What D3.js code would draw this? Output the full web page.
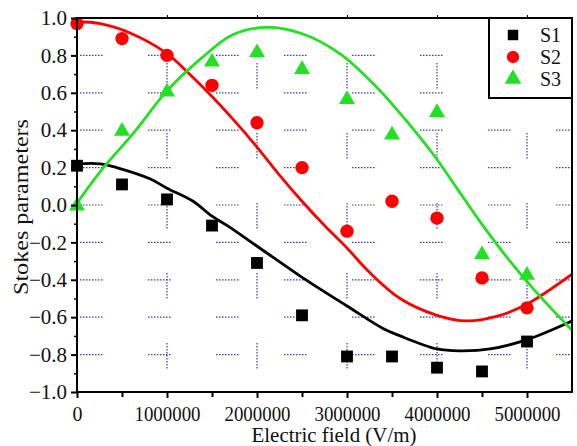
<!DOCTYPE html>
<html>
<head>
<meta charset="utf-8">
<script src="https://cdn.jsdelivr.net/npm/d3@7"></script>
<style>
  html, body { margin: 0; padding: 0; background: #fff; }
</style>
</head>
<body>
<div id="chart"></div>
<script>
// measured points (field in V/m)
const fieldPts = [0, 500000, 1000000, 1500000, 2000000, 2500000, 3000000, 3500000, 4000000, 4500000, 5000000];
const s1Pts = [0.21, 0.11, 0.03, -0.11, -0.31, -0.59, -0.81, -0.81, -0.87, -0.89, -0.73];
const s2Pts = [0.97, 0.89, 0.80, 0.64, 0.44, 0.20, -0.14, 0.02, -0.07, -0.39, -0.55];
const s3Pts = [0.00, 0.40, 0.61, 0.77, 0.82, 0.73, 0.57, 0.38, 0.50, -0.26, -0.37];

// theory curves
const s1CurveX = [0, 260000, 440000, 810000, 1000000, 1290000, 1500000, 1670000, 2030000, 2480000, 3000000, 3400000, 3590000, 4000000, 4260000, 4590000, 5000000, 5500000];
const s1CurveY = [0.22, 0.22, 0.20, 0.14, 0.09, 0.02, -0.06, -0.11, -0.23, -0.38, -0.54, -0.66, -0.70, -0.77, -0.78, -0.77, -0.72, -0.62];
const s2CurveX = [0, 260000, 590000, 1000000, 1250000, 1500000, 1750000, 2000000, 2250000, 2500000, 2750000, 3000000, 3250000, 3590000, 4000000, 4330000, 4700000, 5000000, 5500000];
const s2CurveY = [0.98, 0.97, 0.92, 0.81, 0.70, 0.58, 0.45, 0.31, 0.16, 0.02, -0.11, -0.23, -0.36, -0.50, -0.59, -0.62, -0.59, -0.53, -0.37];
const s3CurveX = [0, 260000, 620000, 1000000, 1370000, 1730000, 2110000, 2480000, 2920000, 3330000, 3590000, 3960000, 4220000, 4480000, 4810000, 5110000, 5500000];
const s3CurveY = [0.01, 0.18, 0.38, 0.61, 0.78, 0.91, 0.95, 0.92, 0.81, 0.63, 0.49, 0.27, 0.09, -0.09, -0.30, -0.47, -0.67];

const xTicks = [0, 1000000, 2000000, 3000000, 4000000, 5000000];
const xMinor = [500000, 1500000, 2500000, 3500000, 4500000];
const yTicks = [-1.0, -0.8, -0.6, -0.4, -0.2, 0.0, 0.2, 0.4, 0.6, 0.8, 1.0];
const yMinor = [-0.9, -0.7, -0.5, -0.3, -0.1, 0.1, 0.3, 0.5, 0.7, 0.9];
const yGrid = [-0.8, -0.6, -0.4, -0.2, 0.0, 0.2, 0.4, 0.6, 0.8];
const xGrid = [1000000, 2000000, 3000000, 4000000, 5000000];

const seriesNames = ['S1', 'S2', 'S3'];
const seriesColors = ['#000000', '#ff0000', '#22e022'];

const W = 577, H = 446;
const margin = {left: 77, top: 18, right: 5, bottom: 54};
const serif = 'Liberation Serif, Tinos, Times New Roman, DejaVu Serif, Noto Serif, serif';

const svg = d3.select('#chart').append('svg').attr('width', W).attr('height', H)
  .style('display', 'block')
  .attr('font-family', serif);

const x = d3.scaleLinear().domain([0, 5500000]).range([margin.left, W - margin.right]);
const y = d3.scaleLinear().domain([-1, 1]).range([H - margin.bottom, margin.top]);

// dotted dash pattern: dots over `dash` px, then a gap until `period`
function dotted(dash, period) {
  const n = Math.floor(dash / 3);
  const arr = [];
  for (let i = 0; i < n; i++) arr.push(1.5, 1.5);
  arr[arr.length - 1] += period - n * 3;
  return arr.join(',');
}

// grid (short dotted blue bits)
const grid = svg.append('g').attr('stroke', '#3a3aa6').attr('stroke-width', 1.2).attr('fill', 'none');
yGrid.forEach(v => {
  grid.append('line')
    .attr('x1', x(0) + 3).attr('x2', x(5500000))
    .attr('y1', y(v)).attr('y2', y(v))
    .attr('stroke-dasharray', dotted(25, 68));
});
xGrid.forEach(v => {
  grid.append('line')
    .attr('x1', x(v)).attr('x2', x(v))
    .attr('y1', y(1) + 45).attr('y2', y(-1))
    .attr('stroke-dasharray', dotted(28, 70));
});

// curves
const curves = [[s1CurveX, s1CurveY], [s2CurveX, s2CurveY], [s3CurveX, s3CurveY]];
const line = d3.line().x(d => x(d[0])).y(d => y(d[1])).curve(d3.curveCatmullRom);
svg.append('clipPath').attr('id', 'plotclip').append('rect')
  .attr('x', x(0)).attr('y', y(1)).attr('width', x(5500000) - x(0)).attr('height', y(-1) - y(1));
curves.forEach((c, i) => {
  const pts = c[0].map((v, j) => [v, c[1][j]]);
  svg.append('path').datum(pts)
    .attr('d', line)
    .attr('fill', 'none')
    .attr('stroke', seriesColors[i])
    .attr('stroke-width', 2.8)
    .attr('stroke-linejoin', 'round')
    .attr('clip-path', 'url(#plotclip)');
});

// markers
const symbols = [d3.symbolSquare, d3.symbolCircle, d3.symbolTriangle];
const sizes = [140, 140, 110];
[s1Pts, s2Pts, s3Pts].forEach((vals, i) => {
  svg.append('g').selectAll('path').data(vals).join('path')
    .attr('transform', (d, j) => `translate(${x(fieldPts[j])},${y(d) + (i === 2 ? 1 : 0)})`)
    .attr('d', d3.symbol().type(symbols[i]).size(sizes[i]))
    .attr('fill', seriesColors[i]);
});

// frame
svg.append('rect')
  .attr('x', x(0)).attr('y', y(1))
  .attr('width', x(5500000) - x(0)).attr('height', y(-1) - y(1))
  .attr('fill', 'none').attr('stroke', '#000').attr('stroke-width', 2);

// axes
const xAxis = d3.axisBottom(x).tickValues(xTicks).tickSize(6).tickPadding(9).tickFormat(d3.format('d'));
const gx = svg.append('g').attr('transform', `translate(0,${y(-1)})`).call(xAxis);
gx.attr('font-family', serif);
gx.select('.domain').remove();
gx.selectAll('line').attr('stroke-width', 2);
gx.selectAll('text')
  .attr('font-family', serif)
  .attr('font-size', 20).attr('fill', '#111')
  .each(function(d) { if (d > 0) d3.select(this).attr('textLength', 66).attr('lengthAdjust', 'spacingAndGlyphs'); });
const gxm = svg.append('g').attr('transform', `translate(0,${y(-1)})`)
  .call(d3.axisBottom(x).tickValues(xMinor).tickSize(5).tickFormat(''));
gxm.select('.domain').remove();
gxm.selectAll('line').attr('stroke-width', 2);
const gxt = svg.append('g').attr('transform', `translate(0,${y(1)})`)
  .call(d3.axisTop(x).tickValues(xTicks.slice(1)).tickSize(3).tickFormat(''));
gxt.select('.domain').remove();

const yAxis = d3.axisLeft(y).tickValues(yTicks).tickSize(6).tickPadding(4)
  .tickFormat(d => d3.format('.1f')(d).replace('-', '\u2212'));
const gy = svg.append('g').attr('transform', `translate(${x(0)},0)`).call(yAxis);
gy.attr('font-family', serif);
gy.select('.domain').remove();
gy.selectAll('line').attr('stroke-width', 2);
gy.selectAll('text').attr('font-family', serif).attr('font-size', 21).attr('fill', '#111');
const gym = svg.append('g').attr('transform', `translate(${x(0)},0)`)
  .call(d3.axisLeft(y).tickValues(yMinor).tickSize(3).tickFormat(''));
gym.select('.domain').remove();
gym.selectAll('line').attr('stroke-width', 1.5);

// axis titles
svg.append('text')
  .attr('x', 334).attr('y', 442)
  .attr('font-family', serif)
  .attr('text-anchor', 'middle').attr('font-size', 20).attr('fill', '#111')
  .attr('textLength', 165).attr('lengthAdjust', 'spacingAndGlyphs')
  .text('Electric field (V/m)');
svg.append('text')
  .attr('transform', `translate(28,${(y(1) + y(-1)) / 2 + 2}) rotate(-90)`)
  .attr('font-family', serif)
  .attr('text-anchor', 'middle').attr('font-size', 22).attr('fill', '#111')
  .attr('textLength', 176).attr('lengthAdjust', 'spacingAndGlyphs')
  .text('Stokes parameters');

// legend
const lg = svg.append('g');
lg.append('rect')
  .attr('x', 489).attr('y', y(1))
  .attr('width', x(5500000) - 489).attr('height', 80)
  .attr('fill', '#fff').attr('stroke', '#000').attr('stroke-width', 2);
const legendY = [35, 57, 79];
seriesNames.forEach((name, i) => {
  lg.append('path')
    .attr('transform', `translate(513,${legendY[i]})`)
    .attr('d', d3.symbol().type(symbols[i]).size(i === 0 ? 110 : 120))
    .attr('fill', seriesColors[i]);
  lg.append('text')
    .attr('x', 540).attr('y', legendY[i] + 7)
    .attr('font-family', serif)
    .attr('font-size', 20).attr('fill', '#111')
    .text(name);
});
</script>
</body>
</html>
